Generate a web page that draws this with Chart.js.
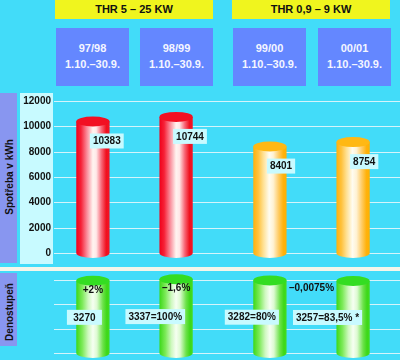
<!DOCTYPE html>
<html>
<head>
<meta charset="utf-8">
<script src="https://cdn.jsdelivr.net/npm/chart.js@4"></script>
<style>
  html, body { margin:0; padding:0; background:#42DCF9; }
  #wrap { position:relative; width:400px; height:360px; background:#42DCF9; overflow:hidden;
          font-family:"Liberation Sans", Arial, sans-serif; }
  .hdr { position:absolute; top:0; height:19px; line-height:19px; background:#F0F51E; color:#111;
         font-weight:bold; font-size:11px; text-align:center; }
  .season { position:absolute; top:28px; height:58px; width:73px; background:#6487FF; color:#F4F6FF;
            font-size:11px; font-weight:bold; line-height:16px; text-align:center; box-sizing:border-box; padding-top:12px; }
  .season span { display:block; }
  .purple { position:absolute; left:0; width:17px; background:#8896F0; }
  .vtitle { position:absolute; left:9px; white-space:nowrap; font-weight:bold; font-size:10px; color:#111;
            transform:translate(-50%,-50%) rotate(-90deg); }
  .tickbox { position:absolute; left:20px; top:93px; width:33px; height:171px; background:#C8FAFF; }
  .band { position:absolute; left:0; top:267px; width:400px; height:4px; background:#F4F6EA; }
  canvas { position:absolute; left:0; }
</style>
</head>
<body>
<div id="wrap">
  <div class="purple" style="top:93px;height:170px"></div>
  <div class="purple" style="top:273px;height:73px"></div>
  <div class="tickbox"></div>
  <div class="band"></div>
  <div class="vtitle" id="t1" style="top:177px"></div>
  <div class="vtitle" id="t2" style="top:312px"></div>
  <canvas id="cTop" width="400" height="180" style="top:88px"></canvas>
  <canvas id="cBot" width="400" height="88" style="top:272px"></canvas>
</div>
<script>
// ---- data ----
const groups = ['THR 5 – 25 KW', 'THR 0,9 – 9 KW'];
const seasons = ['97/98', '98/99', '99/00', '00/01'];
const period = '1.10.–30.9.';
const consumptionFirst = [10383, 8401];   // 97/98, 99/00
const consumptionSecond = [10744, 8754];  // 98/99, 00/01
const degreeDaysFirst = [3270, 3282];     // 97/98, 99/00
const degreeDaysSecond = [3337, 3257];    // 98/99, 00/01
const degreeDayLabels = ['3270', '3337=100%', '3282=80%', '3257=83,5% *'];
const changeLabels = [['+2%', '–1,6%'], ['–0,0075%']];
const yTicksTop = ['0', '2000', '4000', '6000', '8000', '10000', '12000'];
const axisTitleTop = 'Spotřeba v kWh';
const axisTitleBottom = 'Denostupeň';

// ---- html texts ----
document.getElementById('t1').textContent = axisTitleTop;
document.getElementById('t2').textContent = axisTitleBottom;
const wrap = document.getElementById('wrap');
const hdrLeft = [55, 232];
groups.forEach((g, i) => {
  const d = document.createElement('div');
  d.className = 'hdr';
  d.style.left = hdrLeft[i] + 'px';
  d.style.width = '158px';
  d.textContent = g;
  wrap.appendChild(d);
});
const seasonLeft = [56, 140, 233, 318];
seasons.forEach((s, i) => {
  const d = document.createElement('div');
  d.className = 'season';
  d.style.left = seasonLeft[i] + 'px';
  d.innerHTML = '<span></span><span></span>';
  d.children[0].textContent = s;
  d.children[1].textContent = period;
  wrap.appendChild(d);
});

// ---- styles ----
Chart.defaults.font.family = '"Liberation Sans", Arial, sans-serif';
const FONT = 'bold 10px "Liberation Sans", Arial, sans-serif';
const PAL = {
  red: { top:'#F21022', stops:[[0,'#F0001A'],[0.14,'#F62036'],[0.32,'#FA8C9A'],[0.5,'#FFF4F0'],[0.6,'#FFE8E8'],[0.76,'#F86676'],[0.9,'#F0101E'],[1,'#F41426']] },
  orange: { top:'#FFB814', stops:[[0,'#FFB00A'],[0.15,'#FFC23E'],[0.3,'#FFE092'],[0.48,'#FFFCF0'],[0.6,'#FFF2D4'],[0.76,'#FFCC66'],[0.9,'#FFB20C'],[1,'#FFB000']] },
  green: { top:'#34DD22', stops:[[0,'#3CD818'],[0.18,'#7CEA58'],[0.36,'#CFF8C0'],[0.5,'#F6FFF2'],[0.62,'#DDFAD2'],[0.8,'#6CE24A'],[0.92,'#3CD818'],[1,'#44DC20']] }
};
const GRID = '#D4F4FB';
const GRID_START = 54;
const TICK_RIGHT = 51;
const RY = 5;

function drawCylinder(ctx, bar, pal) {
  const w = bar.width, x0 = bar.x - w / 2, x1 = bar.x + w / 2;
  const g = ctx.createLinearGradient(x0, 0, x1, 0);
  pal.stops.forEach(s => g.addColorStop(s[0], s[1]));
  ctx.fillStyle = g;
  ctx.beginPath();
  ctx.moveTo(x0, bar.y);
  ctx.lineTo(x0, bar.base);
  ctx.ellipse(bar.x, bar.base, w / 2, RY, 0, Math.PI, 0, true);
  ctx.lineTo(x1, bar.y);
  ctx.closePath();
  ctx.fill();
  ctx.fillStyle = pal.top;
  ctx.beginPath();
  ctx.ellipse(bar.x, bar.y, w / 2, RY, 0, 0, Math.PI * 2);
  ctx.fill();
}

function labelBox(ctx, text, left, top, minW) {
  ctx.font = FONT;
  const tw = ctx.measureText(text).width;
  const w = Math.max(tw + 6, minW || 0);
  ctx.fillStyle = '#C8FAFF';
  ctx.fillRect(left, top, w, 15);
  ctx.fillStyle = '#111';
  ctx.textAlign = 'center';
  ctx.textBaseline = 'middle';
  ctx.fillText(text, left + w / 2, top + 8);
  return w;
}

// grid lines (and optional tick labels) from the y scale's own ticks
const gridLines = {
  id: 'gridLines',
  beforeDatasetsDraw(chart, args, opts) {
    const ctx = chart.ctx, y = chart.scales.y, a = chart.chartArea;
    ctx.save();
    ctx.strokeStyle = GRID;
    ctx.lineWidth = 1;
    y.ticks.forEach((t, i) => {
      const py = Math.round(y.getPixelForValue(t.value)) + 0.5;
      ctx.beginPath();
      ctx.moveTo(GRID_START, py);
      ctx.lineTo(a.right, py);
      ctx.stroke();
      if (opts.labels) {
        ctx.font = FONT;
        ctx.fillStyle = '#111';
        ctx.textAlign = 'right';
        ctx.textBaseline = 'middle';
        ctx.fillText(opts.labels[i], TICK_RIGHT, py);
      }
    });
    ctx.restore();
  }
};

const topPlugin = {
  id: 'topCyl',
  afterDatasetsDraw(chart) {
    const ctx = chart.ctx;
    ctx.save();
    const bars = [];
    chart.data.datasets.forEach((ds, di) => {
      chart.getDatasetMeta(di).data.forEach((bar, gi) => {
        drawCylinder(ctx, bar, gi === 0 ? PAL.red : PAL.orange);
        bars.push({ bar, value: ds.data[gi] });
      });
    });
    bars.forEach(({ bar, value }) => labelBox(ctx, String(value), bar.x - 3, bar.y + 12));
    ctx.restore();
  }
};

const botPlugin = {
  id: 'botCyl',
  afterDatasetsDraw(chart) {
    const ctx = chart.ctx;
    const y = chart.scales.y;
    ctx.save();
    const metas = chart.data.datasets.map((ds, di) => chart.getDatasetMeta(di));
    metas.forEach(m => m.data.forEach(bar => drawCylinder(ctx, bar, PAL.green)));
    chart.data.datasets.forEach((ds, di) => {
      metas[di].data.forEach((bar, gi) => {
        const text = degreeDayLabels[gi * 2 + di];
        ctx.font = FONT;
        const w = Math.max(ctx.measureText(text).width + 6, 35);
        const mid = y.getPixelForValue(ds.data[gi] / 2);
        labelBox(ctx, text, bar.x + 9 - w, mid - 7, 35);
      });
    });
    ctx.font = FONT;
    ctx.fillStyle = '#111';
    ctx.textAlign = 'center';
    ctx.textBaseline = 'middle';
    changeLabels.forEach((labs, gi) => {
      const b0 = metas[0].data[gi], b1 = metas[1].data[gi];
      if (labs.length === 2) {
        ctx.fillText(labs[0], b0.x, b0.y + 10);
        ctx.fillText(labs[1], b1.x, b1.y + 9);
      } else {
        ctx.fillText(labs[0], (b0.x + b1.x) / 2, (b0.y + b1.y) / 2 + 8);
      }
    });
    ctx.restore();
  }
};

const barDs = (data) => ({ data, backgroundColor: 'transparent', borderWidth: 0,
  categoryPercentage: 0.94, barPercentage: 0.4 });

const common = (yOpts, padding, tickLabels) => ({
  responsive: false, animation: false, events: [],
  devicePixelRatio: 1,
  layout: { padding },
  plugins: { legend: { display: false }, tooltip: { enabled: false },
             gridLines: { labels: tickLabels } },
  scales: {
    x: { display: false },
    y: Object.assign({
      afterFit: (s) => { s.width = 46; },
      grid: { display: false, drawTicks: false },
      border: { display: false },
      ticks: { display: false }
    }, yOpts)
  }
});

new Chart(document.getElementById('cTop'), {
  type: 'bar',
  data: { labels: groups, datasets: [barDs(consumptionFirst), barDs(consumptionSecond)] },
  options: common({
    min: 0, max: 12000,
    ticks: { stepSize: 2000, display: false }
  }, { top: 13, bottom: 15, left: 0, right: 0 }, yTicksTop),
  plugins: [gridLines, topPlugin]
});

new Chart(document.getElementById('cBot'), {
  type: 'bar',
  data: { labels: groups, datasets: [barDs(degreeDaysFirst), barDs(degreeDaysSecond)] },
  options: common({
    min: 0, max: 3300,
    ticks: { stepSize: 1100, display: false }
  }, { top: 8, bottom: 7, left: 0, right: 0 }, null),
  plugins: [gridLines, botPlugin]
});
</script>
</body>
</html>
